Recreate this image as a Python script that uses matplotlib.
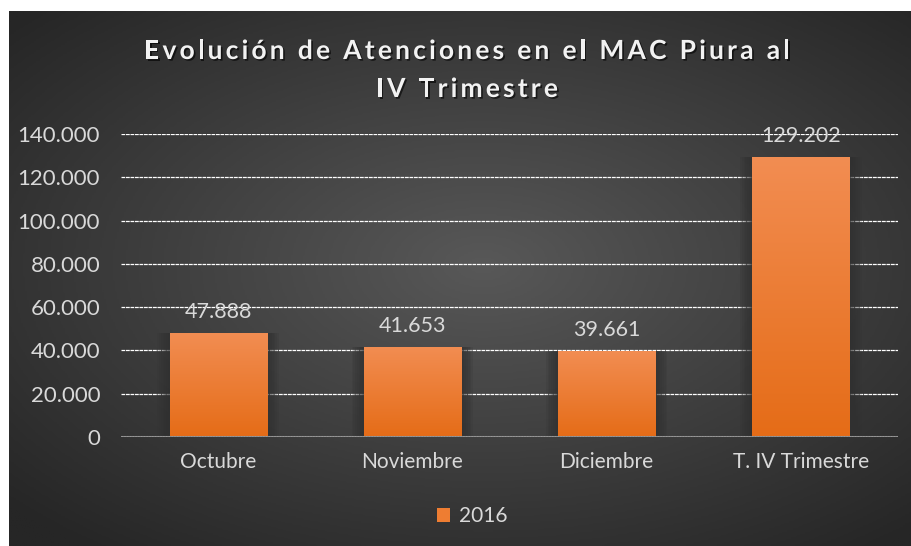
import matplotlib
matplotlib.use("Agg")
import matplotlib.pyplot as plt
import matplotlib.patheffects as pe
from matplotlib.colors import LinearSegmentedColormap
from matplotlib.ticker import FuncFormatter
import numpy as np

# data
categories = ["Octubre", "Noviembre", "Diciembre", "T. IV Trimestre"]
values = [47888, 41653, 39661, 129202]
series_name = "2016"
title_lines = ["Evolución de Atenciones en el MAC Piura al", "IV Trimestre"]

plt.rcParams['font.family'] = ['Lato', 'DejaVu Sans']
W, H = 912, 546
fig = plt.figure(figsize=(W / 100, H / 100), dpi=100)
fig.patch.set_facecolor("white")

# dark radial background
bg = fig.add_axes([9 / W, 0, 1 - 9 / W, 1 - 11 / H], zorder=0)
yy, xx = np.mgrid[-1:1:300j, -1:1:500j]
r = np.sqrt(((xx - 0.05) / 1.05) ** 2 + ((yy + 0.05) / 1.0) ** 2)
r = np.clip(r / 1.35, 0, 1)
bg_cmap = LinearSegmentedColormap.from_list("bg", ["#585858", "#262626"])
bg.imshow(r, cmap=bg_cmap, aspect="auto", extent=[0, 1, 0, 1], vmin=0, vmax=1)
bg.axis("off")

ax = fig.add_axes([121 / W, 1 - 437 / H, (898 - 121) / W, (437 - 134) / H], zorder=1)
ax.patch.set_alpha(0)

x = np.arange(len(categories))
bar_w = 0.5

# soft shadow around the bars (darkens grid near them)
for k in range(7):
    ax.bar(x, values, width=bar_w + 0.018 * (k + 1), color="#303030", alpha=0.16,
           zorder=2, linewidth=0)

bars = ax.bar(x, values, width=bar_w, color="#ee7d32", zorder=3, linewidth=0)

grad_cmap = LinearSegmentedColormap.from_list("bar", ["#e56c17", "#f28d52"])
grad = np.linspace(0, 1, 256).reshape(-1, 1)
for b in bars:
    im = ax.imshow(grad, cmap=grad_cmap, aspect="auto", origin="lower", zorder=3.5,
                   extent=[b.get_x(), b.get_x() + b.get_width(), 0, b.get_height()])
    im.set_clip_path(b)

for xi, v in zip(x, values):
    ax.annotate(f"{v:,}".replace(",", "."), (xi, v), xytext=(0, 8),
                textcoords="offset points", ha="center", va="bottom",
                fontsize=15.5, color="#d9d9d9", zorder=5)

ax.set_xlim(-0.5, len(categories) - 0.5)
ax.set_ylim(0, 140000)
ax.set_yticks(np.arange(0, 140001, 20000))
ax.yaxis.set_major_formatter(FuncFormatter(lambda v, p: f"{int(v):,}".replace(",", ".")))
ax.set_xticks(x)
ax.set_xticklabels(categories)
ax.tick_params(axis="both", length=0, labelcolor="#d9d9d9")
ax.tick_params(axis="y", pad=15, labelsize=16)
ax.tick_params(axis="x", pad=11, labelsize=15)

ax.yaxis.grid(True, color="white", linewidth=0.9, linestyle=(0, (3, 0.6)), zorder=1)
ax.set_axisbelow(True)
for s in ax.spines.values():
    s.set_visible(False)
ax.axhline(0, color="#8a8a8a", linewidth=2.2, zorder=4)
ax.axhline(0, color="#d0d0d0", linewidth=1.0, linestyle=(0, (1, 1)), zorder=4.1)

# legend
leg = fig.legend([bars[0]], [series_name], loc="center", bbox_to_anchor=(472 / W, 1 - 516 / H),
                 frameon=False, fontsize=15, handlelength=0.65, handleheight=0.65,
                 handletextpad=0.4, labelcolor="#d9d9d9")

# title with letter spacing
renderer = fig.canvas.get_renderer()
title_kw = dict(fontsize=19, fontweight="bold", color="#f2f2f2")
shadow = [pe.SimplePatchShadow(offset=(1.2, -1.2), shadow_rgbFace="black", alpha=0.6), pe.Normal()]
spacing = 3.2
baselines = [59, 97]
cx = 467
for line, base in zip(title_lines, baselines):
    widths = []
    for c in line:
        if c == " ":
            widths.append(None)
            continue
        t = fig.text(0, 0, c, **title_kw)
        widths.append(t.get_window_extent(renderer).width)
        t.remove()
    space_w = 10
    total = sum(w + spacing if w is not None else space_w for w in widths) - spacing
    px = cx - total / 2
    for c, w in zip(line, widths):
        if w is None:
            px += space_w
            continue
        fig.text(px / W, 1 - base / H, c, ha="left", va="baseline",
                 path_effects=shadow, **title_kw)
        px += w + spacing

fig.savefig("out.png", dpi=100)
